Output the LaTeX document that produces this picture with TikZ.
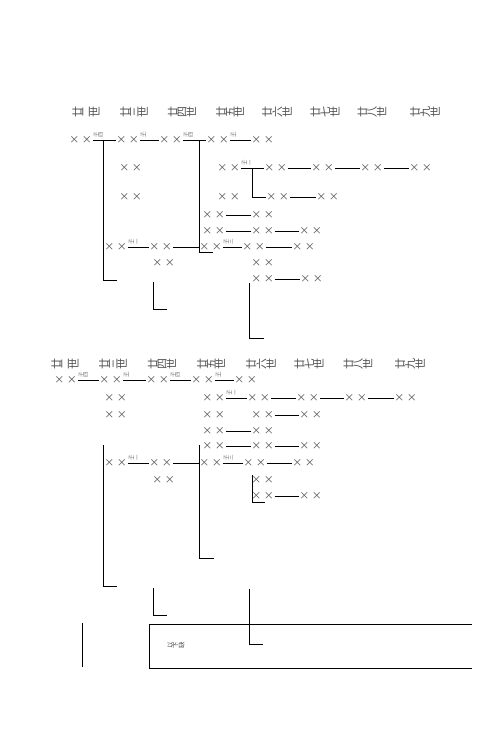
\documentclass[tikz,border=0pt]{standalone}
\usepackage{fontspec}
\usepackage{graphicx}
\newfontfamily\cjk{Noto Sans CJK SC}
\definecolor{txt}{HTML}{505050}
\newcommand\XX{\makebox[8pt][c]{×}\hspace{4.5pt}\makebox[8pt][c]{×}}
\newcommand\hd[3]{\rotatebox{90}{#1}\rotatebox{90}{#2}\rotatebox{90}{#3}}
\newcommand\lbl[2]{\rotatebox{90}{#1}\rotatebox{90}{#2}}
\newcommand\NX[3]{\node[xx] (#1) at (#2-1.5,#3) {\XX};}
\begin{document}
\begin{tikzpicture}[x=1pt,y=-1pt,
  xx/.style={anchor=west,inner xsep=1.5pt,inner ysep=0pt,font=\cjk\fontsize{10}{10}\selectfont,text=txt},
  hdr/.style={inner sep=0pt,font=\cjk\fontsize{11}{11}\selectfont,text=txt},
  sub/.style={pos=0,anchor=south west,inner sep=0pt,yshift=2.5pt,xshift=0.5pt,font=\cjk\fontsize{5.5}{5.5}\selectfont,text=txt!80},
  ln/.style={line width=0.9pt,black},
  every path/.style={line width=0.9pt}]
\useasboundingbox (0,0) rectangle (502,733);
% ---------- block 1 headers
\foreach \x/\n in {86/二,134/三,182/四,230/五,277/六,325/七,372/八,425/九}
  \node[hdr] at (\x,112) {\hd{廿}{\n}{世}};
% ---------- block 1 nodes
\NX{a1}{70}{140}\NX{a2}{117}{140}\NX{a3}{160}{140}\NX{a4}{207}{140}\NX{a5}{252}{140}
\NX{b1}{120}{168}\NX{b2}{218}{168}\NX{b3}{265}{168}\NX{b4}{312}{168}\NX{b5}{361}{168}\NX{b6}{410}{168}
\NX{c1}{120}{197}\NX{c2}{218}{197}\NX{c3}{267}{197}\NX{c4}{317}{197}
\NX{d1}{203}{215}\NX{d2}{252}{215}
\NX{e1}{203}{231}\NX{e2}{252}{231}\NX{e3}{300}{231}
\NX{f1}{105}{247}\NX{f2}{150}{247}\NX{f3}{200}{247}\NX{f4}{243}{247}\NX{f5}{293}{247}
\NX{g1}{153}{263}\NX{g2}{252}{263}
\NX{h1}{252}{279}\NX{h2}{301}{279}
\draw[ln] (a1) -- node[sub]{\lbl{子}{四}} (a2);
\draw[ln] (a2) -- node[sub]{\lbl{子}{一}} (a3);
\draw[ln] (a3) -- node[sub]{\lbl{子}{四}} (a4);
\draw[ln] (a4) -- node[sub]{\lbl{子}{一}} (a5);
\draw[ln] (b2) -- node[sub]{\lbl{子}{二}} (b3);
\draw[ln] (b3) -- (b4);
\draw[ln] (b4) -- (b5);
\draw[ln] (b5) -- (b6);
\draw[ln] (c3) -- (c4);
\draw[ln] (d1) -- (d2);
\draw[ln] (e1) -- (e2);
\draw[ln] (e2) -- (e3);
\draw[ln] (f1) -- node[sub]{\lbl{子}{二}} (f2);
\draw[ln] (f2) -- (f3);
\draw[ln] (f3) -- node[sub]{\lbl{子}{三}} (f4);
\draw[ln] (f4) -- (f5);
\draw[ln] (h1) -- (h2);
% brackets block 1
\coordinate (k1s) at (103,140); \coordinate (k1e) at (117,280);
\coordinate (k2s) at (199,140); \coordinate (k2e) at (213,252);
\coordinate (k3s) at (153,282); \coordinate (k3e) at (167,309);
\coordinate (k4s) at (249,283); \coordinate (k4e) at (264,338);
\coordinate (k5s) at (252,168);
\draw[ln] (k1s) |- (k1e);
\draw[ln] (k2s) |- (k2e);
\draw[ln] (k3s) |- (k3e);
\draw[ln] (k4s) |- (k4e);
\draw[ln] (k5s) |- (c3.west);
% ---------- block 2 headers
\foreach \x/\n in {65/二,113/三,162/四,211/五,261/六,309/七,358/八,410/九}
  \node[hdr] at (\x,364) {\hd{廿}{\n}{世}};
% ---------- block 2 nodes
\NX{A1}{55}{380}\NX{A2}{100}{380}\NX{A3}{147}{380}\NX{A4}{192}{380}\NX{A5}{235}{380}
\NX{B1}{105}{398}\NX{B2}{203}{398}\NX{B3}{248}{398}\NX{B4}{297}{398}\NX{B5}{345}{398}\NX{B6}{395}{398}
\NX{C1}{105}{415}\NX{C2}{203}{415}\NX{C3}{252}{415}\NX{C4}{300}{415}
\NX{D1}{203}{431}\NX{D2}{252}{431}
\NX{E1}{203}{446}\NX{E2}{252}{446}\NX{E3}{300}{446}
\NX{F1}{105}{463}\NX{F2}{150}{463}\NX{F3}{200}{463}\NX{F4}{244}{463}\NX{F5}{293}{463}
\NX{G1}{153}{480}\NX{G2}{252}{480}
\NX{H1}{252}{496}\NX{H2}{300}{496}
\draw[ln] (A1) -- node[sub]{\lbl{子}{四}} (A2);
\draw[ln] (A2) -- node[sub]{\lbl{子}{一}} (A3);
\draw[ln] (A3) -- node[sub]{\lbl{子}{四}} (A4);
\draw[ln] (A4) -- node[sub]{\lbl{子}{一}} (A5);
\draw[ln] (B2) -- node[sub]{\lbl{子}{二}} (B3);
\draw[ln] (B3) -- (B4);
\draw[ln] (B4) -- (B5);
\draw[ln] (B5) -- (B6);
\draw[ln] (C3) -- (C4);
\draw[ln] (D1) -- (D2);
\draw[ln] (E1) -- (E2);
\draw[ln] (E2) -- (E3);
\draw[ln] (F1) -- node[sub]{\lbl{子}{二}} (F2);
\draw[ln] (F2) -- (F3);
\draw[ln] (F3) -- node[sub]{\lbl{子}{三}} (F4);
\draw[ln] (F4) -- (F5);
\draw[ln] (H1) -- (H2);
% brackets block 2
\coordinate (m1s) at (103,445); \coordinate (m1e) at (117,586);
\coordinate (m2s) at (199,445); \coordinate (m2e) at (214,558);
\coordinate (m3s) at (252,475); \coordinate (m3e) at (265,502);
\coordinate (m4s) at (153,588); \coordinate (m4e) at (167,615);
\coordinate (m5s) at (249,589); \coordinate (m5e) at (263,644);
\draw[ln] (m1s) |- (m1e);
\draw[ln] (m2s) |- (m2e);
\draw[ln] (m3s) |- (m3e);
\draw[ln] (m4s) |- (m4e);
\draw[ln] (m5s) |- (m5e);
% bottom
\coordinate (v1) at (82,623); \coordinate (v2) at (82,667);
\draw[ln] (v1) -- (v2);
\coordinate (bx1) at (472,624); \coordinate (bx2) at (149,624);
\coordinate (bx3) at (149,668); \coordinate (bx4) at (472,668);
\draw[ln] (bx1) -- (bx2) -- (bx3) -- (bx4);
\node[hdr,font=\cjk\fontsize{6.5}{6.5}\selectfont] (note) at (176,645) {\hd{以}{下}{缺}};
\end{tikzpicture}
\end{document}
